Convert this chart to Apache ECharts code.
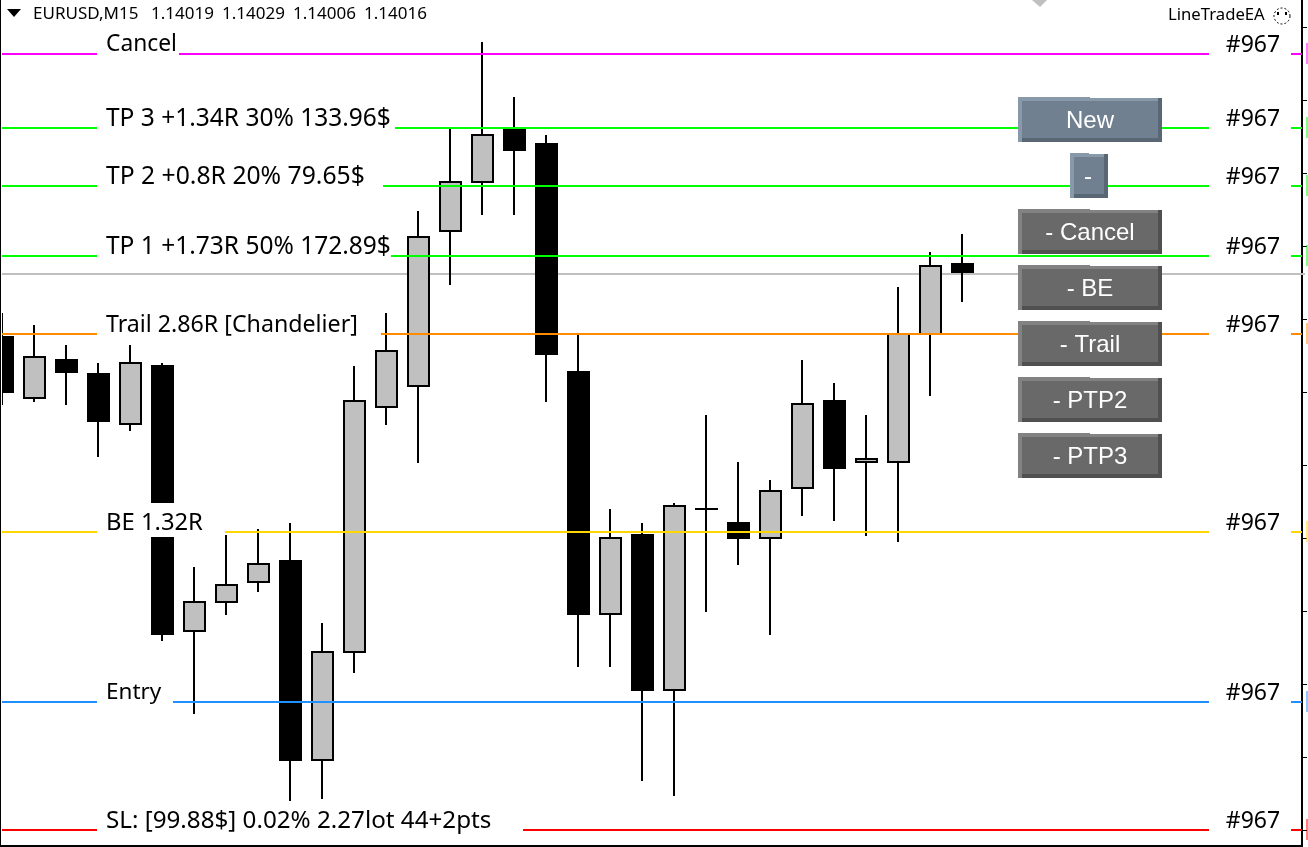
<!DOCTYPE html>
<html>
<head>
<meta charset="utf-8">
<script src="https://cdn.jsdelivr.net/npm/echarts@6/dist/echarts.min.js"></script>
<style>html,body{margin:0;padding:0;background:#fff;overflow:hidden}#c{width:1308px;height:847px}</style>
</head>
<body>
<div id="c"></div>
<script>
// ---- data: price bars, oldest first
const barOpen  = [1.13994,1.13973,1.13986,1.13981,1.13964,1.13984,1.13893,1.13903,1.13910,1.13917,1.13849,1.13886,1.13970,1.13977,1.14030,1.14047,1.14065,1.14060,1.13982,1.13899,1.13926,1.13873,1.13935,1.13930,1.13925,1.13942,1.13972,1.13951,1.13951,1.13995,1.14019];
const barClose = [1.13975,1.13987,1.13982,1.13965,1.13985,1.13892,1.13903,1.13909,1.13916,1.13849,1.13886,1.13972,1.13989,1.14028,1.14047,1.14063,1.14058,1.13988,1.13899,1.13925,1.13873,1.13936,1.13935,1.13925,1.13941,1.13971,1.13949,1.13952,1.13995,1.14018,1.14016];
const barLow   = [1.13971,1.13972,1.13971,1.13953,1.13962,1.13890,1.13865,1.13899,1.13907,1.13835,1.13836,1.13879,1.13964,1.13951,1.14012,1.14036,1.14036,1.13972,1.13881,1.13881,1.13842,1.13837,1.13900,1.13916,1.13892,1.13933,1.13931,1.13926,1.13924,1.13974,1.14006];
const barHigh  = [1.14002,1.13998,1.13991,1.13985,1.13991,1.13985,1.13915,1.13926,1.13928,1.13930,1.13896,1.13984,1.14002,1.14037,1.14065,1.14095,1.14076,1.14063,1.13995,1.13935,1.13930,1.13937,1.13967,1.13951,1.13945,1.13986,1.13978,1.13967,1.14011,1.14023,1.14029];
const barSlots = 41; // visible bar slots, empty ones to the right of the last bar
const categories = Array.from({length: barSlots}, (_, i) => String(i + 1));

const levelPrices = [1.140908,1.140654,1.140455,1.140216,1.139949,1.13927,1.138688,1.13825];
const levelLabels = ['Cancel','TP 3 +1.34R 30% 133.96$','TP 2 +0.8R 20% 79.65$','TP 1 +1.73R 50% 172.89$','Trail 2.86R [Chandelier]','BE 1.32R','Entry','SL: [99.88$] 0.02% 2.27lot 44+2pts'];
const ticketLabel = '#967';
const bidPrice = [1.140154];

const headerParts = ['EURUSD,M15','1.14019','1.14029','1.14006','1.14016'];
const eaText = 'LineTradeEA';
const buttonLabels = ['New','-','- Cancel','- BE','- Trail','- PTP2','- PTP3'];

// ---- styling, kept apart from the data
const headerX = [33,151,222,293,364];
const levelColors = ['#FF00FF','#00FF00','#00FF00','#00FF00','#FF8C00','#FFD700','#1E90FF','#FF0000'];
const labelGapEnd = [179,395,383,391,381,225,173,523];
const labelSizes = [22.8,24.5,24.7,24.5,23.2,23.8,22.5,24.2];
const FONT = '"Noto Sans", sans-serif';
const buttonBoxes = [[1018,97,144],[1070,153,38],[1018,209,144],[1018,265,144],[1018,321,144],[1018,377,144],[1018,433,144]];
const slate = {face:'#708090',light:'#8899AA',dark:'#596673'};
const grey  = {face:'#696969',light:'#828282',dark:'#505050'};

const rows = barOpen.map((o, i) => [i, o, barClose[i], barLow[i], barHigh[i]]);

function renderBar(params, api) {
  const i = api.value(0), o = api.value(1), c = api.value(2), l = api.value(3), h = api.value(4);
  const x = Math.round(api.coord([i, o])[0]);
  const py = v => Math.round(api.coord([i, v])[1]);
  const top = py(Math.max(o, c)) - 1, bot = py(Math.min(o, c)) + 1;
  const kids = [
    {type:'rect', shape:{x:x-1, y:py(h), width:2, height:py(l)-py(h)+1}, style:{fill:'#000'}},
    {type:'rect', shape:{x:x-11, y:top, width:23, height:bot-top}, style:{fill:'#000'}}
  ];
  if (c > o && bot - top > 4) {
    kids.push({type:'rect', shape:{x:x-9, y:top+2, width:19, height:bot-top-4}, style:{fill:'#C0C0C0'}});
  }
  return {type:'group', children:kids};
}
function renderLevel(params, api) {
  const i = params.dataIndex;
  const y = Math.round(api.coord([0, api.value(1)])[1]);
  const col = levelColors[i];
  const ls = {stroke: col, lineWidth: 2};
  return {type: 'group', children: [
    {type:'line', shape:{x1:2,y1:y,x2:1302,y2:y}, style:ls},
    {type:'rect', shape:{x:97,y:y-29,width:labelGapEnd[i]-97,height:34}, style:{fill:'#fff'}},
    {type:'rect', shape:{x:1209,y:y-29,width:82,height:34}, style:{fill:'#fff'}},
    {type:'line', shape:{x1:1307,y1:y-11,x2:1307,y2:y+10}, style:{stroke:col,lineWidth:1}},
    {type:'text', style:{x:106,y:y-9,text:levelLabels[i],fontSize:labelSizes[i],fontFamily:FONT,fill:'#000',align:'left',verticalAlign:'middle'}},
    {type:'text', style:{x:1253,y:y-9,text:ticketLabel,fontSize:23,fontFamily:FONT,fill:'#000',align:'center',verticalAlign:'middle'}}
  ]};
}
function renderBid(params, api) {
  const y = Math.round(api.coord([0, api.value(1)])[1]);
  return {type:'line', shape:{x1:2,y1:y,x2:1305,y2:y}, style:{stroke:'#C0C0C0',lineWidth:2}};
}

const Z = 100;
const graphics = [];
buttonBoxes.forEach((b, i) => {
  const [x, y, w] = b, h = 45, c = i < 2 ? slate : grey;
  graphics.push(
    {type:'rect',z:Z,shape:{x:x,y:y+1,width:w,height:h-1},style:{fill:c.face}},
    {type:'rect',z:Z,shape:{x:x,y:y,width:Math.round(w/2),height:4},style:{fill:c.light}},
    {type:'rect',z:Z,shape:{x:x,y:y+1,width:w,height:3},style:{fill:c.light}},
    {type:'rect',z:Z,shape:{x:x,y:y,width:4,height:h},style:{fill:c.light}},
    {type:'rect',z:Z,shape:{x:x+4,y:y+h-4,width:w-4,height:4},style:{fill:c.dark}},
    {type:'rect',z:Z,shape:{x:x+w-4,y:y+1,width:4,height:h-1},style:{fill:c.dark}},
    {type:'text',z:Z+1,style:{x:x+w/2+(i===1?-1:0),y:y+24,text:buttonLabels[i],fontSize:24,fontFamily:'"Liberation Sans", Arial, sans-serif',fill:'#fff',align:'center',verticalAlign:'middle'}}
  );
});
headerParts.forEach((t, i) => graphics.push(
  {type:'text',z:Z,style:{x:headerX[i],y:14,text:t,fontSize:17,fontFamily:FONT,fill:'#000',align:'left',verticalAlign:'middle'}}
));
graphics.push(
  {type:'rect',z:Z,shape:{x:0,y:0,width:1,height:847},style:{fill:'#000'}},
  {type:'rect',z:Z,shape:{x:1,y:0,width:1,height:847},style:{fill:'#fff'}},
  {type:'rect',z:Z,shape:{x:0,y:845,width:1303,height:2},style:{fill:'#000'}},
  {type:'polygon',z:Z,shape:{points:[[7,9],[21,9],[14,17]]},style:{fill:'#000'}},
  {type:'polygon',z:Z,shape:{points:[[1032,0],[1047,0],[1040,7]]},style:{fill:'#C0C0C0'}},
  {type:'text',z:Z,style:{x:1168,y:15,text:eaText,fontSize:16.7,fontFamily:FONT,fill:'#000',align:'left',verticalAlign:'middle'}},
  {type:'circle',z:Z,shape:{cx:1282,cy:16,r:8},style:{fill:'none',stroke:'#000',lineWidth:1,lineDash:[2,2]}},
  {type:'rect',z:Z,shape:{x:1277,y:12,width:2,height:3},style:{fill:'#000'}},
  {type:'rect',z:Z,shape:{x:1285,y:12,width:2,height:3},style:{fill:'#000'}}
);

const chart = echarts.init(document.getElementById('c'), null, {renderer:'canvas'});
chart.setOption({
  animation: false,
  backgroundColor: '#fff',
  tooltip: {show:false},
  grid: {left:-14, right:10, top:-46, bottom:-56, outerBoundsMode:'none'},
  xAxis: {type:'category', data:categories, show:false, boundaryGap:true},
  yAxis: {
    type:'value', position:'right', offset:4, scale:true,
    min:1.138, max:1.14125, interval:0.00025,
    axisLine:{show:true,lineStyle:{color:'#000',width:2}},
    axisTick:{show:true,length:5,lineStyle:{color:'#000',width:1}},
    axisLabel:{show:false}, splitLine:{show:false}
  },
  series: [
    {type:'custom', z:1, clip:false, silent:true, data:bidPrice.map(p => [0,p]), encode:{x:0,y:1}, renderItem:renderBid},
    {type:'custom', z:5, clip:false, silent:true, data:rows, encode:{x:0,y:[1,2,3,4]}, renderItem:renderBar},
    {type:'custom', z:50, clip:false, silent:true, data:levelPrices.map(p => [0,p]), encode:{x:0,y:1}, renderItem:renderLevel}
  ],
  graphic: {elements: graphics}
});
</script>
</body>
</html>
